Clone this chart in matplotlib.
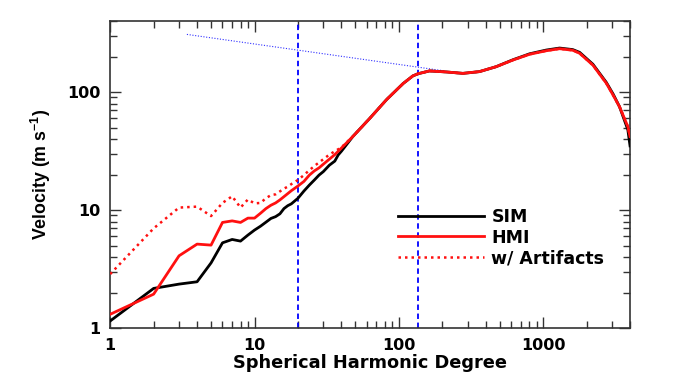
import matplotlib
matplotlib.use("Agg")
import matplotlib.pyplot as plt

plt.rcParams["font.family"] = ["DejaVu Sans"]
plt.rcParams["font.weight"] = "bold"
plt.rcParams["mathtext.fontset"] = "custom"
plt.rcParams["mathtext.rm"] = "Liberation Sans:bold"
plt.rcParams["mathtext.bf"] = "Liberation Sans:bold"
plt.rcParams["mathtext.default"] = "bf"

# spherical harmonic degree and velocity (m/s)
ell_sim = [1, 2, 3, 4, 5, 6, 7, 8, 9, 10, 11, 12, 13, 14, 15, 16, 17, 18, 20, 22,
           24, 26, 28, 30, 33, 36, 38, 40, 48, 63, 82, 107, 125, 136, 163, 214,
           278, 362, 472, 619, 806, 1052, 1300, 1604, 1790, 2213, 2737, 3057,
           3384, 3862, 4000]
sim = [1.15, 2.17, 2.36, 2.47, 3.57, 5.28, 5.64, 5.46, 6.14, 6.77, 7.3, 7.9, 8.5,
       8.8, 9.3, 10.3, 10.9, 11.3, 12.6, 14.5, 16.3, 18.0, 19.8, 21.2, 24.0,
       26.0, 29.3, 31.5, 42, 60, 86, 118, 137, 143, 151, 148,
       144, 149, 164, 188, 211, 227, 236, 229, 217, 172, 121, 96,
       75, 48, 35]

ell_hmi = [1, 2, 3, 4, 5, 6, 7, 8, 9, 10, 11, 12, 13, 14, 15, 16, 17, 18, 20, 22,
           24, 26, 28, 30, 33, 36, 39, 48, 63, 82, 107, 125, 136, 163, 214,
           278, 362, 472, 619, 806, 1052, 1300, 1604, 1790, 2213, 2737, 3057,
           3384, 3862, 4000]
hmi = [1.31, 1.94, 4.1, 5.15, 5.05, 7.86, 8.1, 7.86, 8.55, 8.55, 9.4, 10.3, 11.0,
       11.5, 12.2, 13.0, 13.8, 14.6, 16.0, 17.5, 19.8, 21.5, 22.8, 24.5, 27.0,
       29.5, 32.5, 42, 60, 86, 118, 137, 143, 151, 148,
       144, 149, 164, 187, 209, 224, 233, 226, 213, 169, 119, 94,
       75, 51, 42]

ell_art = [1, 2, 3, 4, 5, 6, 7, 8, 9, 10, 11, 12, 13, 14, 15, 16, 17, 18, 20, 22,
           24, 27, 30, 33, 36, 40, 48, 63, 82, 107, 125, 136, 163, 214,
           278, 362, 472, 619, 806, 1052, 1300, 1604, 1790, 2213, 2737, 3057,
           3384, 3862, 4000]
art = [2.87, 7.0, 10.5, 10.7, 8.9, 11.5, 13.1, 10.5, 12.3, 11.4, 11.5, 12.6, 13.4,
       13.6, 14.4, 15.2, 15.8, 16.6, 18.0, 19.8, 21.8, 24.5, 27.0, 29.5, 31.5,
       34.0, 42, 60, 86, 118, 137, 143, 151, 148,
       144, 149, 164, 187, 209, 224, 233, 226, 213, 169, 119, 94,
       75, 51, 42]

# reference power-law guide and the two marked degrees
guide_ell = [3.4, 208]
guide_vel = [308, 151]
marked_ell = [20, 136]

fig = plt.figure(figsize=(6.76, 3.75), dpi=100)
ax = fig.add_axes([0.163, 0.125, 0.769, 0.819])

ax.plot(ell_sim, sim, color="black", lw=2.0, label="SIM", zorder=3)
ax.plot(ell_hmi, hmi, color="#ff1010", lw=2.0, label="HMI", zorder=4)
ax.plot(ell_art, art, color="#ff1010", lw=1.8, ls=(0, (1, 1.6)), label="w/ Artifacts", zorder=5)
ax.plot(guide_ell, guide_vel, color="#3030ff", lw=0.8, ls=(0, (1, 1.5)), zorder=2)
for x in marked_ell:
    ax.axvline(x, color="#0000ff", lw=1.3, ls=(0, (3, 2)), zorder=2)

ax.set_xscale("log")
ax.set_yscale("log")
ax.set_xlim(1, 4000)
ax.set_ylim(1, 400)
ax.set_xticks([1, 10, 100, 1000])
ax.set_xticklabels(["1", "10", "100", "1000"])
ax.set_yticks([1, 10, 100])
ax.set_yticklabels(["1", "10", "100"])
ax.tick_params(which="both", direction="in", top=True, right=True,
               labelsize=11.5, colors="#333333", labelcolor="black")
ax.tick_params(which="major", length=8, width=1, pad=7)
ax.tick_params(which="minor", length=5, width=1)
for s in ax.spines.values():
    s.set_color("#333333")
    s.set_linewidth(1.2)

ax.set_xlabel("Spherical Harmonic Degree", fontsize=12.8, fontweight="bold", labelpad=1)
ax.set_ylabel("Velocity (m s$^{-1}$)", fontsize=12.8, fontweight="bold", labelpad=10,
              family="Liberation Sans")

ax.legend(loc="upper left", bbox_to_anchor=(0.553, 0.392), frameon=False,
          fontsize=12.5, handlelength=5.0, handletextpad=0.4, labelspacing=0.16,
          borderpad=0, borderaxespad=0)

fig.savefig("out.png", dpi=100)
